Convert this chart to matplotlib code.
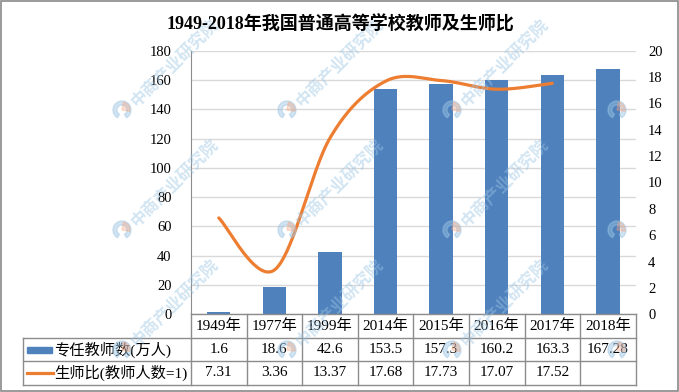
import numpy as np
import matplotlib
matplotlib.use("Agg")
import matplotlib.pyplot as plt
from matplotlib.patches import Rectangle, Wedge

plt.rcParams['font.family'] = ['Liberation Serif', 'Noto Sans CJK SC']

# data
years = ["1949年", "1977年", "1999年", "2014年", "2015年", "2016年", "2017年", "2018年"]
teachers = [1.6, 18.6, 42.6, 153.5, 157.3, 160.2, 163.3, 167.28]
teacher_labels = ["1.6", "18.6", "42.6", "153.5", "157.3", "160.2", "163.3", "167.28"]
ratio = [7.31, 3.36, 13.37, 17.68, 17.73, 17.07, 17.52]
ratio_labels = ["7.31", "3.36", "13.37", "17.68", "17.73", "17.07", "17.52", ""]
series_names = ["专任教师数(万人)", "生师比(教师人数=1)"]

bar_color = "#4F81BD"
line_color = "#ED7D31"
grid_color = "#D9D9D9"
edge_color = "#8C8C8C"


def smooth(xs, ys, n=40):
    # excel-like smoothed line (catmull-rom bezier)
    pts = np.column_stack([xs, ys]).astype(float)
    P = np.vstack([pts[0], pts, pts[-1]])
    out = []
    t = np.linspace(0, 1, n)[:, None]
    for i in range(1, len(P) - 2):
        p0, p1, p2, p3 = P[i - 1], P[i], P[i + 1], P[i + 2]
        c1 = p1 + (p2 - p0) / 6
        c2 = p2 - (p3 - p1) / 6
        seg = (1 - t)**3 * p1 + 3 * (1 - t)**2 * t * c1 + 3 * (1 - t) * t**2 * c2 + t**3 * p2
        out.append(seg)
    return np.vstack(out)


W, H = 679, 392
fig = plt.figure(figsize=(W / 100, H / 100), dpi=100)

# plot area in pixels
left, right, top, bottom = 191, 635.7, 50.6, 314.3
ax = fig.add_axes([left / W, 1 - bottom / H, (right - left) / W, (bottom - top) / H])
x = np.arange(len(years))
ax.bar(x, teachers, width=0.42, color=bar_color, zorder=2)
ax.set_xlim(-0.5, len(years) - 0.5)
ax.set_ylim(0, 180)
ax.set_yticks(range(0, 181, 20))
ax.set_xticks([])
ax.grid(axis="y", color=grid_color, lw=1, zorder=0)
for s in ["top", "right", "bottom"]:
    ax.spines[s].set_visible(False)
ax.spines["left"].set_color(edge_color)
ax.tick_params(axis="y", length=0, pad=14, labelsize=10.5)

ax2 = ax.twinx()
curve = smooth(x[:len(ratio)], ratio)
ax2.plot(curve[:, 0], curve[:, 1], color=line_color, lw=2.3, solid_capstyle="round", zorder=3)
ax2.set_ylim(0, 20)
ax2.set_yticks(range(0, 21, 2))
for s in ["top", "right", "bottom", "left"]:
    ax2.spines[s].set_visible(False)
ax2.tick_params(axis="y", length=0, pad=9, labelsize=10.5)

fig.text(340 / W, 1 - 24 / H, "1949-2018年我国普通高等学校教师及生师比",
         ha="center", va="center", fontsize=13, fontweight="bold")

# table drawn in pixel coordinates
ov = fig.add_axes([0, 0, 1, 1])
ov.set_xlim(0, W)
ov.set_ylim(H, 0)
ov.axis("off")

col_w = (right - left) / len(years)
tab_left = 22.7
rows_y = [bottom, 337.7, 361.3, 384.7]
ov.plot([left, right], [bottom, bottom], color=edge_color, lw=1)
for yy in rows_y[1:]:
    ov.plot([tab_left, right], [yy, yy], color=edge_color, lw=1)
for i in range(len(years) + 1):
    xx = left + i * col_w
    ov.plot([xx, xx], [bottom, rows_y[-1]], color=edge_color, lw=1)
ov.plot([tab_left, tab_left], [rows_y[1], rows_y[-1]], color=edge_color, lw=1)

for i, yr in enumerate(years):
    cx = left + (i + 0.5) * col_w
    ov.text(cx, (rows_y[0] + rows_y[1]) / 2, yr, ha="center", va="center", fontsize=11)
    ov.text(cx, (rows_y[1] + rows_y[2]) / 2, teacher_labels[i], ha="center", va="center", fontsize=11)
    ov.text(cx, (rows_y[2] + rows_y[3]) / 2, ratio_labels[i], ha="center", va="center", fontsize=11)

# legend keys in row label column
y1 = (rows_y[1] + rows_y[2]) / 2
y2 = (rows_y[2] + rows_y[3]) / 2
ov.add_patch(Rectangle((27, y1 - 3), 25, 6, color=bar_color))
ov.plot([27, 53], [y2, y2], color=line_color, lw=2.3)
ov.text(54, y1, series_names[0], ha="left", va="center", fontsize=11)
ov.text(54, y2, series_names[1], ha="left", va="center", fontsize=11)

# watermarks (only the ones that fit inside the picture)
for wx in [-43, 122, 287, 452, 617]:
    for wy in [-10, 110, 230, 350]:
        ov.add_patch(Wedge((wx, wy), 9, 120, 420, width=4, color="#9CC5E3", alpha=0.45, zorder=5))
        ov.add_patch(Wedge((wx, wy), 8, -80, 10, color="#F4A582", alpha=0.35, zorder=5))
        if wx < 0 or wy < 100 or wx > 600:
            continue
        ov.text(wx + 12, wy - 6, "中商产业研究院", rotation=45, rotation_mode="anchor",
                ha="left", va="center", fontsize=12, fontweight="bold",
                color="#9CC5E3", alpha=0.45, family="Noto Sans CJK SC", zorder=5)

# outer border
ov.add_patch(Rectangle((0.5, 0.5), W - 1.5, H - 1.5, fill=False, ec="#898989", lw=1.2))

fig.savefig("out.png", dpi=100)
